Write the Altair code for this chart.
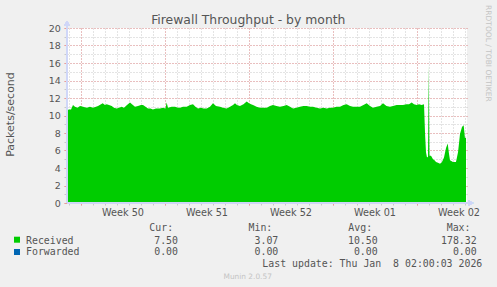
import json
import altair as alt
import pandas as pd

# ---------------- data ----------------
# time in days since the start of Week 50 (Monday)
days = [-1.125, -0.96, -0.79, -0.625, -0.46, -0.25, -0.04, 0.21, 0.52, 0.79,
        1.04, 1.29, 1.46, 1.71, 1.85, 2.04, 2.18, 2.375, 2.6, 2.79,
        3.02, 3.21, 3.43, 3.625, 3.875, 4.125, 4.29, 4.54, 4.79, 5.04,
        5.21, 5.42, 5.625, 5.83, 6.04, 6.29, 6.625, 6.875, 7.08, 7.18,
        7.29, 7.6, 7.875, 8.125, 8.29, 8.54, 8.85, 9.125, 9.375, 9.58,
        9.79, 10.04, 10.25, 10.52, 10.79, 11.04, 11.29, 11.625, 11.875, 12.18,
        12.46, 12.71, 12.875, 13.04, 13.29, 13.58, 13.85, 14.04, 14.21, 14.375,
        14.67, 14.96, 15.25, 15.52, 15.79, 16.04, 16.33, 16.625, 16.92, 17.18,
        17.46, 17.71, 18.0, 18.29, 18.58, 18.85, 19.125, 19.375, 19.67, 19.96,
        20.25, 20.52, 20.79, 21.04, 21.33, 21.625, 21.92, 22.18, 22.46, 22.71,
        23.0, 23.29, 23.58, 23.85, 24.125, 24.375, 24.67, 24.96, 25.21, 25.5,
        25.79, 26.04, 26.35, 26.625, 26.875, 27.17, 27.375, 27.6, 27.79, 28.02,
        28.21, 28.43, 28.625, 28.71, 28.79, 28.875, 28.96, 29.02, 29.08, 29.21,
        29.375, 29.5, 29.625, 29.79, 29.96, 30.125, 30.29, 30.46, 30.6, 30.71,
        30.79, 31.04, 31.29, 31.46, 31.625, 31.79, 31.93, 32.04, 32.125]
received = [10.6, 10.7, 10.7, 11.2, 11.0, 10.9, 11.1, 11.0, 10.9, 11.0,
            10.9, 11.0, 11.1, 11.3, 11.4, 11.2, 11.3, 11.2, 11.1, 10.9,
            10.8, 10.9, 11.0, 10.9, 11.2, 11.5, 11.3, 11.0, 11.1, 11.2,
            11.2, 11.0, 10.8, 10.8, 10.7, 10.8, 10.8, 10.9, 10.8, 11.5,
            10.9, 11.0, 11.0, 10.9, 10.9, 11.0, 11.0, 11.2, 11.3, 11.0,
            10.8, 10.9, 10.8, 10.8, 11.0, 11.4, 11.1, 11.0, 10.9, 10.8,
            11.0, 11.2, 11.4, 11.2, 11.1, 11.3, 11.6, 11.4, 11.3, 11.2,
            11.0, 10.9, 10.9, 10.9, 11.1, 11.2, 11.1, 11.0, 11.1, 11.2,
            11.0, 10.8, 10.9, 11.0, 11.1, 11.1, 11.0, 11.0, 10.9, 10.8,
            10.9, 10.8, 10.9, 10.9, 11.0, 11.0, 11.2, 11.3, 11.1, 11.0,
            11.0, 11.0, 11.2, 11.4, 11.1, 10.9, 11.0, 11.1, 11.4, 11.1,
            11.0, 11.1, 11.2, 11.2, 11.2, 11.3, 11.3, 11.5, 11.3, 11.2,
            11.3, 11.2, 11.3, 8.0, 5.8, 5.2, 5.3, 15.8, 5.4, 5.4,
            5.0, 4.9, 4.7, 4.6, 4.5, 4.7, 5.2, 6.3, 6.8, 5.6,
            4.9, 4.7, 4.7, 5.8, 7.9, 8.7, 8.9, 7.4, 7.5]

x_domain = [-1.125, 32.208]
day_grid = list(range(-1, 33))
week_lines = [0, 7, 14, 21, 28]
week_label_pos = [3.5, 10.5, 17.5, 24.5, 31.5]
week_labels = ["Week 50", "Week 51", "Week 52", "Week 01", "Week 02"]
y_minor = list(range(0, 21))
y_major = list(range(0, 21, 2))

title_text = "Firewall Throughput - by month"
y_title = "Packets/second"
series_names = ["Received", "Forwarded"]
series_colors = ["#00CC00", "#0066B3"]
col_headers = ["Cur:", "Min:", "Avg:", "Max:"]
cur_vals = ["7.50", "0.00"]
min_vals = ["3.07", "0.00"]
avg_vals = ["10.50", "0.00"]
max_vals = ["178.32", "0.00"]
last_update = "Last update: Thu Jan \u00a08 02:00:03 2026"
footer = "Munin 2.0.57"
side_text = "RRDTOOL / TOBI OETIKER"

# ---------------- styling ----------------
FG = "#555555"
GRID_MINOR = "#C8C8C8"
GRID_MAJOR = "#EE9A9A"
AXIS_COL = "#CFD6F8"
MONO = "DejaVu Sans Mono"
SANS = "DejaVu Sans"

df = pd.DataFrame({"t": days, "v": received})

xscale = alt.Scale(domain=x_domain, nice=False, zero=False)
yscale = alt.Scale(domain=[0, 20], nice=False, zero=False)

label_expr = "%s[indexof(%s, datum.value)]" % (json.dumps(week_labels), json.dumps(week_label_pos))

area = alt.Chart(df).mark_area(color=series_colors[0], interpolate="linear", opacity=1).encode(
    x=alt.X("t:Q", scale=xscale, axis=alt.Axis(
        orient="bottom", values=day_grid, grid=True, gridColor=GRID_MINOR, gridDash=[1, 2],
        gridOpacity=1, ticks=True, tickColor=GRID_MINOR, tickSize=2, labels=False,
        domain=False, title=None, zindex=0)),
    y=alt.Y("v:Q", scale=yscale, axis=alt.Axis(
        orient="left", values=y_minor, grid=True, gridColor=GRID_MINOR, gridDash=[1, 2],
        gridOpacity=1, ticks=True, tickColor=GRID_MINOR, tickSize=3, labels=False,
        domain=False, title=None, zindex=0)),
)

major = alt.Chart(df).mark_line(opacity=0).encode(
    x=alt.X("t:Q", scale=xscale, axis=alt.Axis(
        orient="bottom", values=week_lines, grid=True, gridColor=GRID_MAJOR, gridDash=[1, 2],
        gridOpacity=1, ticks=True, tickColor=GRID_MAJOR, tickSize=2, labels=False,
        domain=False, title=None, zindex=0)),
    y=alt.Y("v:Q", scale=yscale, axis=alt.Axis(
        orient="left", values=y_major, grid=True, gridColor=GRID_MAJOR, gridDash=[1, 2],
        gridOpacity=1, ticks=True, tickColor=GRID_MAJOR, tickSize=3, labels=True,
        labelFont=SANS, labelFontSize=9.5, labelColor=FG, labelPadding=3.7,
        domain=False, title=None, zindex=0)),
)

labels_layer = alt.Chart(df).mark_line(opacity=0).encode(
    x=alt.X("t:Q", scale=xscale, axis=alt.Axis(
        orient="bottom", values=week_label_pos, grid=False, ticks=False, labelExpr=label_expr,
        labelFont=SANS, labelFontSize=9.7, labelColor=FG, labelBaseline="alphabetic",
        labelPadding=12.5, labelFlush=False, labelOverlap=False,
        domain=False, title=None)),
    y=alt.Y("v:Q", scale=yscale, axis=None),
)

# axis lines with arrows
axis_lines = [
    alt.Chart(df).mark_rule(color=AXIS_COL, strokeWidth=1).encode(
        x=alt.value(0), y=alt.value(-4), y2=alt.value(175)),
    alt.Chart(df).mark_rule(color=AXIS_COL, strokeWidth=1).encode(
        x=alt.value(0), x2=alt.value(403), y=alt.value(175)),
    alt.Chart(df).mark_point(shape="triangle-up", filled=True, color=AXIS_COL, size=30, opacity=1).encode(
        x=alt.value(0), y=alt.value(-5)),
    alt.Chart(df).mark_point(shape="triangle-right", filled=True, color=AXIS_COL, size=30, opacity=1).encode(
        x=alt.value(404), y=alt.value(175)),
]


def txt(s, x, y, align="left", size=9.9, color=FG, font=MONO, angle=0, baseline="alphabetic"):
    return alt.Chart(pd.DataFrame({"s": [s]})).mark_text(
        align=align, baseline=baseline, fontSize=size, font=font, color=color, angle=angle
    ).encode(x=alt.value(x), y=alt.value(y), text="s:N")


texts = [
    txt(title_text, 181.3, -4, align="center", size=12.4, font=SANS),
    txt(y_title, -56.5, 86.5, align="center", size=11, font=SANS, angle=270, baseline="middle"),
    txt(side_text, 421, 25.4, align="center", size=7.5, font=SANS, color="#C4C4C4", angle=90,
        baseline="middle"),
    txt(footer, 180.7, 250.7, align="center", size=7.4, font=SANS, color="#C4C4C4"),
    txt(last_update, 415.3, 238.7, align="right"),
]
header_x = [82.3, 181.5, 281.3, 379.7]
for h, hx in zip(col_headers, header_x):
    texts.append(txt(h, hx, 203))

row_y = [215.5, 227]
sq_y = [(208.7, 214.7), (221, 227)]
value_cols = [cur_vals, min_vals, avg_vals, max_vals]
value_x = [111, 211.3, 310.7, 409.7]
for i, name in enumerate(series_names):
    texts.append(alt.Chart(pd.DataFrame({"s": [name]})).mark_rect(color=series_colors[i]).encode(
        x=alt.value(-53), x2=alt.value(-47), y=alt.value(sq_y[i][0]), y2=alt.value(sq_y[i][1])))
    texts.append(txt(name, -41, row_y[i]))
    for col, vx in zip(value_cols, value_x):
        texts.append(txt(col[i], vx, row_y[i], align="right"))

chart = alt.layer(area, major, labels_layer, *axis_lines, *texts).resolve_axis(
    x="independent", y="independent"
).properties(
    width=400, height=175,
    padding={"left": 67, "top": 28, "right": 30, "bottom": 84},
    autosize=alt.AutoSizeParams(type="none"),
    background="#F0F0F0",
).configure_view(fill="#FFFFFF", stroke=None)

chart.save("out.html", embed_options={"renderer": "svg", "actions": False})
